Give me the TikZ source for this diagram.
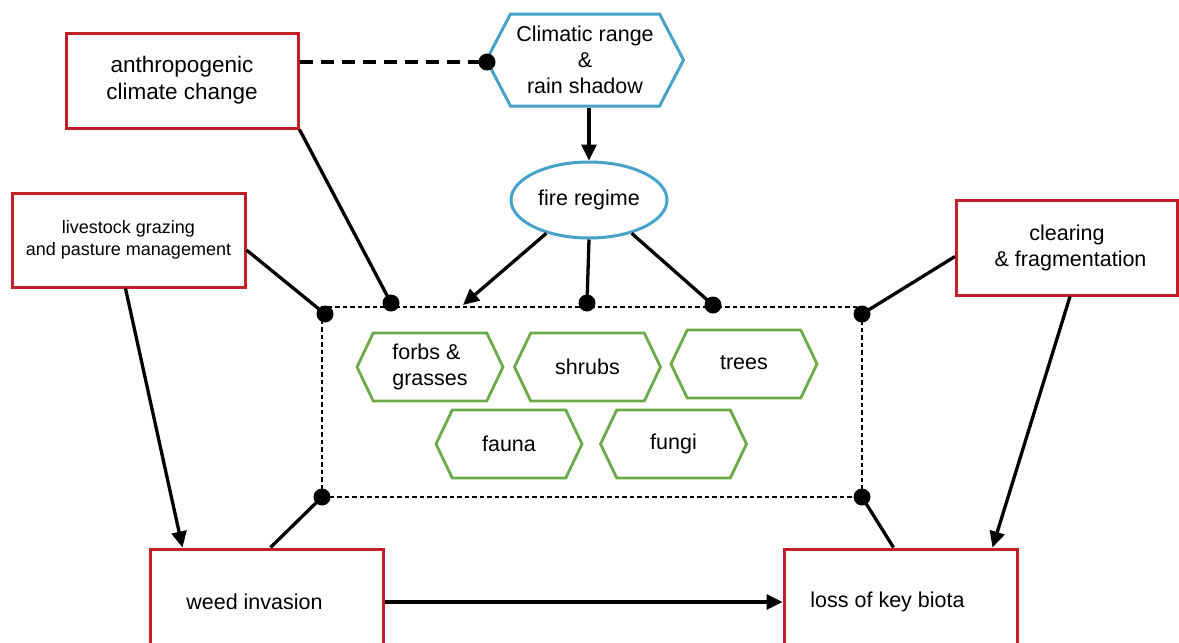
\documentclass[tikz,border=0pt]{standalone}
\usepackage{fontspec}
\setmainfont{Liberation Sans}
\usetikzlibrary{shapes.geometric,shapes.symbols,arrows.meta}
\definecolor{boxred}{RGB}{192,32,38}
\definecolor{hexblue}{RGB}{70,162,200}
\definecolor{hexgreen}{RGB}{106,170,72}
\tikzset{
 lbl/.style={font=\fontsize{21.5}{26}\selectfont},
 redbox/.style={draw=boxred, line width=3pt, rectangle, fill=white, align=center, lbl},
 greenhex/.style={draw=hexgreen, line width=2.8pt, signal, signal to=east and west, signal pointer angle=129, minimum width=146pt, minimum height=68pt, inner sep=0pt, align=center, lbl},
 bluehex/.style={draw=hexblue, line width=3pt, signal, signal to=east and west, signal pointer angle=125, minimum width=197pt, minimum height=92pt, inner sep=0pt, align=center, lbl},
 fireell/.style={draw=hexblue, line width=3pt, ellipse, minimum width=156pt, minimum height=76pt, inner sep=0pt, lbl},
 conn/.style={line width=3.3pt},
 arr/.style={conn, -{Triangle[length=16pt,width=15pt]}},
 dashconn/.style={line width=3.3pt, dash pattern=on 13pt off 8pt},
 grpbox/.style={draw, line width=1.8pt, dash pattern=on 4.5pt off 3pt, minimum width=540pt, minimum height=190pt, inner sep=0pt},
 dotnode/.style={circle, fill=black, minimum size=17pt, inner sep=0pt},
}
\begin{document}
\begin{tikzpicture}[x=1pt,y=-1pt]
\useasboundingbox (0,0) rectangle (1179,643);
\clip (0,0) rectangle (1179,643);

% group box
\node[grpbox] (grp) at (592,402) {};

% boxes
\node[redbox, minimum width=232pt, minimum height=95pt, font=\fontsize{22.5}{27}\selectfont] (anthro) at (182,80.5) {anthropogenic\\climate change};
\node[redbox, minimum width=233pt, minimum height=94pt, font=\fontsize{18}{22}\selectfont] (live) at (128.5,240) {livestock grazing\\and pasture management};
\node[redbox, minimum width=221pt, minimum height=95pt] (clear) at (1067,247.5) {clearing\\\,\,\& fragmentation};
\node[redbox, minimum width=233pt, minimum height=106pt] (weed) at (266.5,602) {\hspace*{-24pt}weed invasion};
\node[redbox, minimum width=233pt, minimum height=106pt] (loss) at (900.5,602) {\hspace*{-26pt}loss of key biota};

% top hexagon and ellipse
\node[bluehex, fill=white] (clim) at (585,60) {Climatic range\\\&\\rain shadow};
\node[fireell, fill=white] (fire) at (589,200) {fire regime};

% green hexagons
\node[greenhex, align=left] (forbs) at (430,367) {forbs \&\\grasses};
\node[greenhex] (shrubs) at (587.5,367) {shrubs};
\node[greenhex] (trees) at (744,364) {\raisebox{2pt}{trees}};
\node[greenhex] (fauna) at (509,444) {fauna};
\node[greenhex] (fungi) at (673.5,444) {fungi};

% dots
\node[dotnode] (d0) at (487,62) {};
\node[dotnode] (d1) at (391,303) {};
\node[dotnode] (d2) at (325,314) {};
\node[dotnode] (d3) at (587,303) {};
\node[dotnode] (d4) at (713,305) {};
\node[dotnode] (d5) at (862,314) {};
\node[dotnode] (d6) at (322,497) {};
\node[dotnode] (d7) at (862,497) {};
\coordinate (fa) at (463,305);

% connectors
\draw[dashconn] ([yshift=18.5pt]anthro.east) -- (d0.center);
\draw[arr] (fire.north |- clim.south) -- (fire.north);
\draw[conn] (anthro.south east) -- (d1.center);
\draw[conn] ([yshift=-10pt]live.east) -- (d2.center);
\draw[arr] (fire.218) -- (fa);
\draw[conn] (fire.south) -- (d3.center);
\draw[conn] (fire.-38) -- (d4.center);
\draw[conn] ([yshift=-9pt]clear.west) -- (d5.center);
\draw[arr] ([xshift=-3pt]live.south) -- ([xshift=-84pt]weed.north);
\draw[conn] ([xshift=4pt]weed.north) -- (d6.center);
\draw[conn] ([xshift=-7pt]loss.north) -- (d7.center);
\draw[arr] ([xshift=3pt]clear.south) -- ([xshift=92pt]loss.north);
\draw[arr] (weed.east) -- (loss.west);
\end{tikzpicture}
\end{document}
